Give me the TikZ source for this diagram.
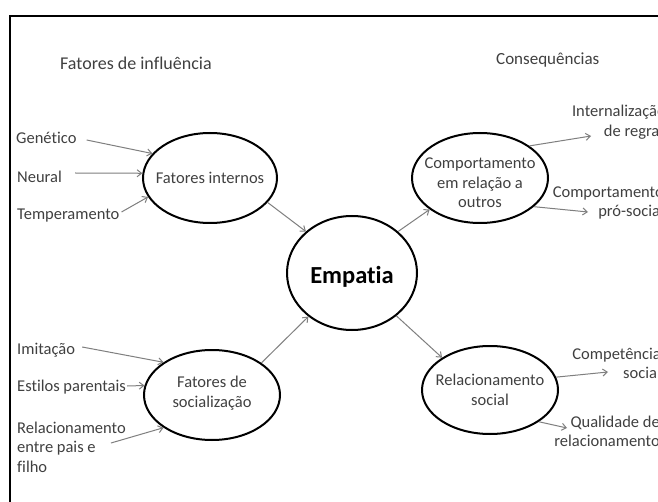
\documentclass[tikz,border=0pt]{standalone}
\usepackage{fontspec}
\setmainfont{Carlito}[Ligatures=NoCommon]
\usetikzlibrary{arrows.meta,shapes.geometric}
\definecolor{txt}{HTML}{404040}
\definecolor{arrgray}{HTML}{7F7F7F}
\begin{document}
\begin{tikzpicture}[x=1pt,y=-1pt,
  oval/.style={draw=black, line width=2pt, ellipse, inner sep=0pt},
  lbl/.style={text=txt, font=\fontsize{16.5}{19.5}\selectfont, align=center, inner sep=0pt},
  head/.style={text=txt, font=\fontsize{17}{20}\selectfont, inner sep=0pt, anchor=west},
  txtl/.style={text=txt, font=\fontsize{16.5}{19.5}\selectfont, inner sep=0pt, anchor=west, align=left},
  txtr/.style={text=txt, font=\fontsize{16.5}{19.5}\selectfont, inner sep=0pt, anchor=east, align=right},
  arr/.style={draw=arrgray, line width=1pt, -{Straight Barb[length=4.5pt,width=7pt]}},
  frameline/.style={draw=black, line width=2pt}]
\useasboundingbox (0,0) rectangle (658,502);
\clip (0,0) rectangle (658,502);
\fill[white] (0,0) rectangle (658,502);
% frame
\draw[frameline] (10,520) -- (10,16.5) -- (680,16.5);
% headings
\node[head, font=\fontsize{18}{21}\selectfont] (h1) at (60,63) {Fatores de influência};
\node[head] (h2) at (496,60) {Consequências};
% ellipses
\node[oval, minimum width=134pt, minimum height=90pt,
  label={[lbl]center:Fatores internos}] (fi) at (210,178) {};
\node[oval, minimum width=130pt, minimum height=114pt,
  label={[lbl, text=black, font=\bfseries\fontsize{24.5}{28}\selectfont, yshift=-4pt]center:Empatia}] (emp) at (352,273) {};
\node[oval, minimum width=136pt, minimum height=90pt,
  label={[lbl, yshift=-5pt]center:{Comportamento\\em relação a\\outros}}] (comp) at (480,178) {};
\node[oval, minimum width=136pt, minimum height=90pt,
  label={[lbl, yshift=2pt]center:{Fatores de\\socialização}}] (fs) at (212,395) {};
\node[oval, minimum width=136pt, minimum height=88pt,
  label={[lbl]center:{Relacionamento\\social}}] (rs) at (490,390) {};
% left texts
\node[txtl] (gen) at (16,138) {Genético};
\node[txtl] (neu) at (17,177) {Neural};
\node[txtl] (temp) at (17,216) {Temperamento};
\node[txtl] (imi) at (17,350) {Imitação};
\node[txtl] (est) at (17,387) {Estilos parentais};
\node[txtl] (rel) at (17,447) {Relacionamento\\entre pais e\\filho};
% right texts (cut by the picture's right edge, as in the reference)
\node[txtr] (intern) at (666,122) {Internalização\\de regras};
\node[txtr] (pros) at (664,203) {Comportamento\\pró-social};
\node[txtr] (compet) at (661,363.5) {Competência\\social};
\node[txtr] (qual) at (660,431.5) {Qualidade de\\relacionamento};
% arrow tips near right texts
\coordinate (tI) at (591,136);
\coordinate (tP) at (588,212);
\coordinate (tC) at (608,372);
\coordinate (tQ) at (567,428);
% arrows
\draw[arr] ([xshift=10pt,yshift=-2pt]gen.east) -- (fi.157);
\draw[arr] ([shift={(13,-4)}]neu.east) -- (fi.176);
\draw[arr] ([shift={(2,-4)}]temp.east) -- (fi.197);
\draw[arr] (fi.-23) -- (emp.138);
\draw[arr] (emp.42) -- (comp.212);
\draw[arr] (comp.33) -- (tI);
\draw[arr] (comp.-28) -- (tP);
\draw[arr] ([shift={(7,-3)}]imi.east) -- (fs.146);
\draw[arr] ([shift={(1,-1)}]est.east) -- (fs.172);
\draw[arr] ([shift={(-15,-4)}]rel.east) -- (fs.214);
\draw[arr] (fs.33) -- (emp.225);
\draw[arr] (emp.-44) -- (rs.146);
\draw[arr] (rs.11) -- (tC);
\draw[arr] (rs.-33) -- (tQ);
\end{tikzpicture}
\end{document}
